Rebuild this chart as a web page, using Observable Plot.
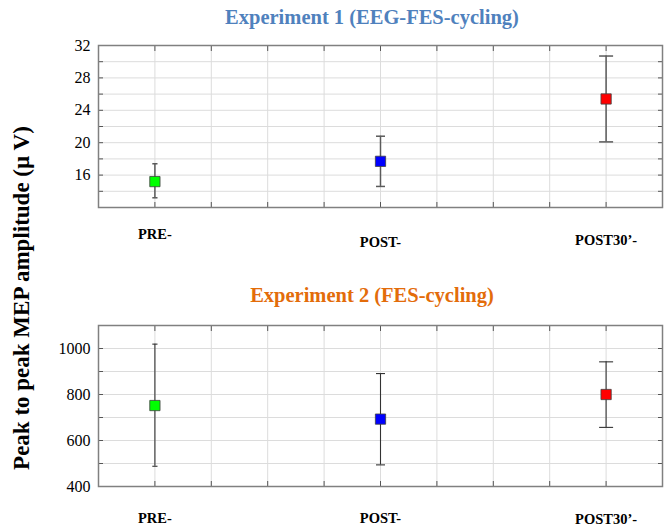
<!DOCTYPE html>
<html><head><meta charset="utf-8">
<script src="https://cdn.jsdelivr.net/npm/d3@7"></script>
<script src="https://cdn.jsdelivr.net/npm/@observablehq/plot@0.6"></script>
<style>
body{margin:0;background:#fff;}
#wrap{position:relative;width:667px;height:527px;overflow:hidden;font-family:"Liberation Serif","Times New Roman",serif;background:#fff;}
.title{position:absolute;left:80px;width:584px;text-align:center;font-weight:bold;font-size:20.5px;line-height:24px;white-space:nowrap;}
#ylab{position:absolute;left:22px;top:298px;transform:translate(-50%,-50%) rotate(-90deg);white-space:nowrap;font-weight:bold;font-size:23px;}
.panel{position:absolute;left:0;}
</style></head>
<body>
<div id="wrap">
  <div class="title" id="t1" style="top:5px;color:#4f81bd;"></div>
  <div class="title" id="t2" style="top:283px;color:#e36c0a;"></div>
  <div id="ylab"></div>
  <div class="panel" id="p1" style="top:0px;"></div>
  <div class="panel" id="p2" style="top:270px;"></div>
</div>
<script>
// ---- data ----
const phases = ["PRE-", "POST-", "POST30\u2019-"];
const phaseColors = ["#00ff00", "#0000ff", "#ff0000"];
const title1 = "Experiment 1 (EEG-FES-cycling)";
const title2 = "Experiment 2 (FES-cycling)";
const yTitle = "Peak to peak MEP amplitude (\u00b5 V)";

const exp1Mean = [15.2, 17.7, 25.4];
const exp1Low  = [13.2, 14.6, 20.1];
const exp1High = [17.4, 20.8, 30.7];
const exp1Ticks = [16, 20, 24, 28, 32];

const exp2Mean = [752, 693, 800];
const exp2Low  = [488, 494, 657];
const exp2High = [1019, 891, 942];
const exp2Ticks = [400, 600, 800, 1000];

// ---- styles ----
const capRadius = [2.6, 4.5, 7];

document.getElementById("t1").textContent = title1;
document.getElementById("t2").textContent = title2;
document.getElementById("ylab").textContent = yTitle;

const capSymbol = {
  draw(ctx, size) {
    const r = Math.sqrt(size / Math.PI);
    ctx.moveTo(-r, 0); ctx.lineTo(r, 0);
  }
};

function panel({mean, low, high, yDomain, yTicks, yStep, height, marginTop, marginBottom, xPad, labelDy, barColor, barWidth}) {
  const rows = phases.map((p, i) => ({phase: p, idx: i + 1, mean: mean[i], low: low[i], high: high[i], cap: capRadius[i]}));
  const xGrid = d3.range(3, 14).map(k => k / 4);
  const yGrid = d3.range(yDomain[0], yDomain[1] + yStep / 2, yStep);
  return Plot.plot({
    width: 667, height, marginLeft: 98, marginRight: 5, marginTop, marginBottom,
    style: {fontFamily: "'Liberation Serif', 'Times New Roman', serif", fontSize: "15px", color: "#000", background: "transparent"},
    x: {domain: [0.75, 3.25], label: null},
    y: {domain: yDomain, label: null},
    r: {type: "identity"},
    color: {domain: phases, range: phaseColors},
    marks: [
      Plot.gridX(xGrid, {stroke: "#dcdcdc", strokeOpacity: 1}),
      Plot.gridY(yGrid, {stroke: "#dcdcdc", strokeOpacity: 1}),
      Plot.axisX(xGrid, {anchor: "top", tickSize: -5, tickFormat: () => "", label: null, stroke: "#555"}),
      Plot.axisX(xGrid, {anchor: "bottom", tickSize: -5, tickFormat: () => "", label: null, stroke: "#555"}),
      ...[1, 2, 3].map((v, i) => Plot.axisX([v], {anchor: "bottom", tickSize: 0, tickPadding: xPad, dy: labelDy[i], tickFormat: d => phases[d - 1], label: null, fontWeight: "bold", fontSize: 14.5})),
      Plot.axisY(yGrid, {anchor: "left", tickSize: -5, tickFormat: () => "", label: null, stroke: "#555"}),
      Plot.axisY(yGrid, {anchor: "right", tickSize: -5, tickFormat: () => "", label: null, stroke: "#555"}),
      Plot.axisY(yTicks, {anchor: "left", tickSize: 0, tickPadding: 8, tickFormat: d3.format("d"), label: null, fontSize: 16}),
      Plot.frame({stroke: "#808080", strokeWidth: 1.5}),
      Plot.ruleX(rows, {x: "idx", y1: "low", y2: "high", stroke: barColor, strokeWidth: barWidth}),
      Plot.dot(rows, {x: "idx", y: "low", symbol: capSymbol, r: "cap", stroke: barColor, strokeWidth: barWidth, fill: "none"}),
      Plot.dot(rows, {x: "idx", y: "high", symbol: capSymbol, r: "cap", stroke: barColor, strokeWidth: barWidth, fill: "none"}),
      Plot.dot(rows, {x: "idx", y: "mean", symbol: "square", r: 5.8, fill: "phase", stroke: "#404040", strokeWidth: 0.8})
    ]
  });
}

document.getElementById("p1").append(panel({
  mean: exp1Mean, low: exp1Low, high: exp1High,
  yDomain: [12, 32], yTicks: exp1Ticks, yStep: 2,
  height: 255, marginTop: 45, marginBottom: 48, xPad: 24, labelDy: [-3, 5, 3],
  barColor: "#5a5a5a", barWidth: 1.5
}));
document.getElementById("p2").append(panel({
  mean: exp2Mean, low: exp2Low, high: exp2High,
  yDomain: [400, 1100], yTicks: exp2Ticks, yStep: 100,
  height: 257, marginTop: 55, marginBottom: 41, xPad: 26, labelDy: [0, 0, 1],
  barColor: "#333", barWidth: 1.1
}));
</script>
</body></html>
